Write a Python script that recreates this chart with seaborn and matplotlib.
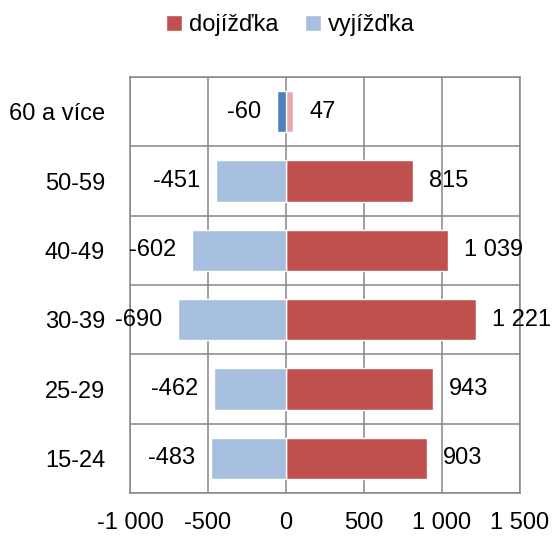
import matplotlib.pyplot as plt
import pandas as pd
import seaborn as sns
from matplotlib.patches import Patch

# age groups, top to bottom
categories = ['60 a více', '50-59', '40-49', '30-39', '25-29', '15-24']
dojizdka = [47, 815, 1039, 1221, 943, 903]
vyjizdka = [-60, -451, -602, -690, -462, -483]
x_ticks = [-1000, -500, 0, 500, 1000, 1500]

red = '#C0504D'
blue = '#A7BFDE'
red_hl = '#E6A9A8'
blue_hl = '#4F81BD'
grid_col = '#868686'


def fmt(v):
    return f'{v:,}'.replace(',', ' ')


df = pd.DataFrame({'vek': categories, 'dojizdka': dojizdka, 'vyjizdka': vyjizdka})

sns.set_style('white')
plt.rcParams['font.family'] = ['Liberation Sans', 'DejaVu Sans']
plt.rcParams['font.size'] = 17
plt.rcParams['text.color'] = 'black'
plt.rcParams['xtick.labelcolor'] = 'black'
plt.rcParams['ytick.labelcolor'] = 'black'

fig = plt.figure(figsize=(5.54, 5.37), dpi=100)
ax = fig.add_axes([0.2347, 0.0819, 0.7039, 0.7747])

sns.barplot(ax=ax, data=df, x='dojizdka', y='vek', color=red, width=0.6,
            orient='h', saturation=1)
sns.barplot(ax=ax, data=df, x='vyjizdka', y='vek', color=blue, width=0.6,
            orient='h', saturation=1)

# first age group drawn in a different shade
ax.containers[0][0].set_facecolor(red_hl)
ax.containers[1][0].set_facecolor(blue_hl)

for cont, vals in zip(ax.containers, [dojizdka, vyjizdka]):
    ax.bar_label(cont, labels=[fmt(v) for v in vals], padding=11.5,
                 fontsize=17, color='black')

ax.set_xlim(-1000, 1500)
ax.set_ylim(5.5, -0.5)
ax.set_xticks(x_ticks)
ax.set_xticklabels([fmt(t) for t in x_ticks])
ax.set_yticks(range(len(categories)))
ax.set_yticklabels(categories)
ax.set_yticks([i - 0.5 for i in range(len(categories) + 1)], minor=True)
ax.set_xlabel('')
ax.set_ylabel('')

ax.grid(True, axis='x', which='major', color=grid_col, linewidth=1.1)
ax.grid(True, axis='y', which='minor', color=grid_col, linewidth=1.1)
ax.set_axisbelow(True)
ax.tick_params(axis='y', which='both', length=0, pad=18, labelsize=17,
               labelcolor='black')
ax.tick_params(axis='x', which='major', length=7, width=1.1, color=grid_col,
               direction='out', pad=7, labelsize=17, labelcolor='black')
for s in ax.spines.values():
    s.set_color(grid_col)
    s.set_linewidth(1.1)

handles = [Patch(facecolor=red, label='dojížďka'),
           Patch(facecolor=blue, label='vyjížďka')]
fig.legend(handles=handles, loc='center', bbox_to_anchor=(0.524, 0.953),
           ncol=2, frameon=False, fontsize=17, handlelength=0.7,
           handleheight=0.7, handletextpad=0.3, columnspacing=1.1,
           labelcolor='black')

plt.savefig('out.png', dpi=100)
